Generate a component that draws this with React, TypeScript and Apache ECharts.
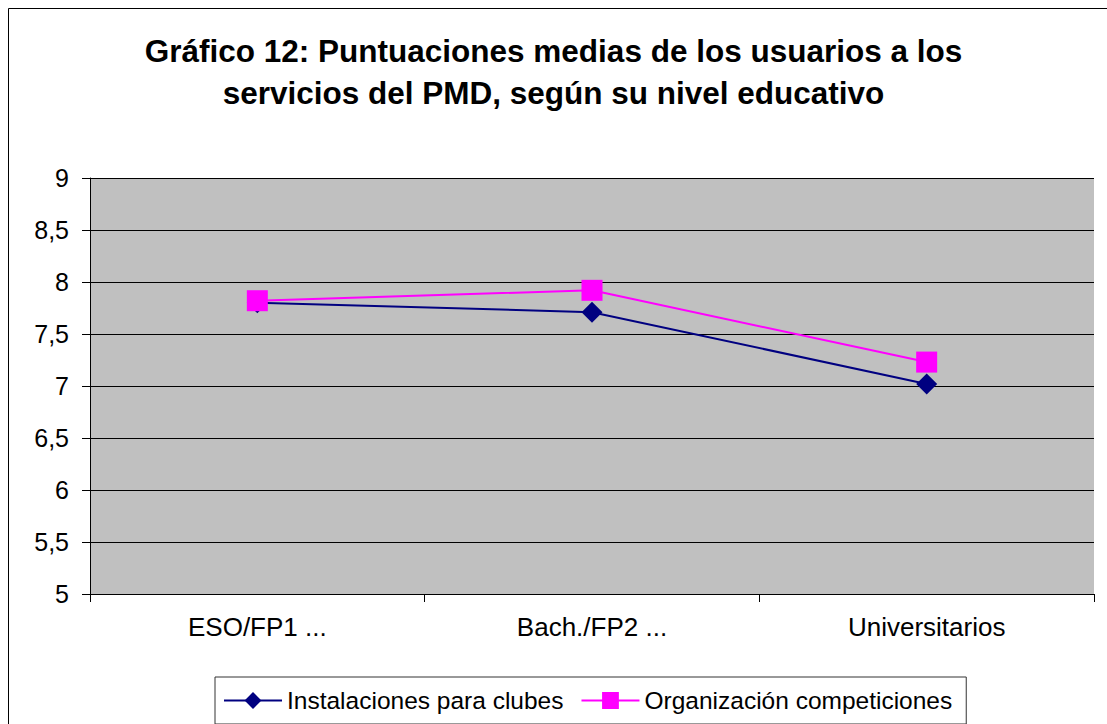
import React, { useEffect, useRef } from "react";
import * as echarts from "echarts";

const categories = ["ESO/FP1 ...", "Bach./FP2 ...", "Universitarios"];
const instalaciones = [7.8, 7.71, 7.02];
const organizacion = [7.82, 7.92, 7.23];
const seriesNames = ["Instalaciones para clubes", "Organización competiciones"];
const titleText = "Gráfico 12: Puntuaciones medias de los usuarios a los\nservicios del PMD, según su nivel educativo";

export default function App() {
  const ref = useRef<HTMLDivElement>(null);
  useEffect(() => {
    const chart = echarts.init(ref.current!, null, { renderer: "svg" });
    const font = "'Liberation Sans', Arial, sans-serif";
    chart.setOption({
      animation: false,
      backgroundColor: "#ffffff",
      textStyle: { fontFamily: font },
      title: {
        text: titleText,
        left: "center",
        top: 30,
        padding: 0,
        textStyle: { fontSize: 31.5, fontWeight: "bold", color: "#000", lineHeight: 42, fontFamily: font },
      },
      graphic: [
        {
          type: "rect",
          shape: { x: 8.5, y: 8.5, width: 1110, height: 730 },
          style: { fill: "none", stroke: "#000", lineWidth: 1 },
          silent: true,
        },
      ],
      grid: { left: 90, right: 13, top: 178, bottom: 130, backgroundColor: "#c0c0c0", show: true, borderWidth: 0 },
      legend: {
        top: 677,
        left: 215,
        data: seriesNames,
        borderColor: "#333",
        borderWidth: 1,
        padding: [11, 14, 11, 8],
        itemWidth: 58,
        itemHeight: 21,
        itemGap: 17,
        textStyle: { fontSize: 24.5, color: "#000", fontFamily: font },
      },
      xAxis: {
        type: "category",
        data: categories,
        boundaryGap: true,
        axisLine: { lineStyle: { color: "#000", width: 1 } },
        axisTick: { show: true, length: 8, lineStyle: { color: "#000" } },
        axisLabel: { fontSize: 26, color: "#000", margin: 20, fontFamily: font },
        splitLine: { show: false },
      },
      yAxis: {
        type: "value",
        min: 5,
        max: 9,
        interval: 0.5,
        axisLine: { show: true, lineStyle: { color: "#000", width: 1 } },
        axisTick: { show: true, length: 8, lineStyle: { color: "#000" } },
        axisLabel: {
          fontSize: 25,
          color: "#000",
          margin: 21,
          fontFamily: font,
          formatter: (v: number) => String(v).replace(".", ","),
        },
        splitLine: { show: true, lineStyle: { color: "#000", width: 1 } },
      },
      series: [
        {
          name: seriesNames[0],
          type: "line",
          data: instalaciones,
          color: "#000080",
          symbol: "diamond",
          symbolSize: 21,
          lineStyle: { width: 2, color: "#000080" },
          itemStyle: { color: "#000080" },
        },
        {
          name: seriesNames[1],
          type: "line",
          data: organizacion,
          color: "#ff00ff",
          symbol: "rect",
          symbolSize: 21,
          lineStyle: { width: 2, color: "#ff00ff" },
          itemStyle: { color: "#ff00ff" },
        },
      ],
    });
    return () => chart.dispose();
  }, []);
  return <div ref={ref} style={{ position: "absolute", left: 0, top: 0, width: 1107, height: 724 }} />;
}
